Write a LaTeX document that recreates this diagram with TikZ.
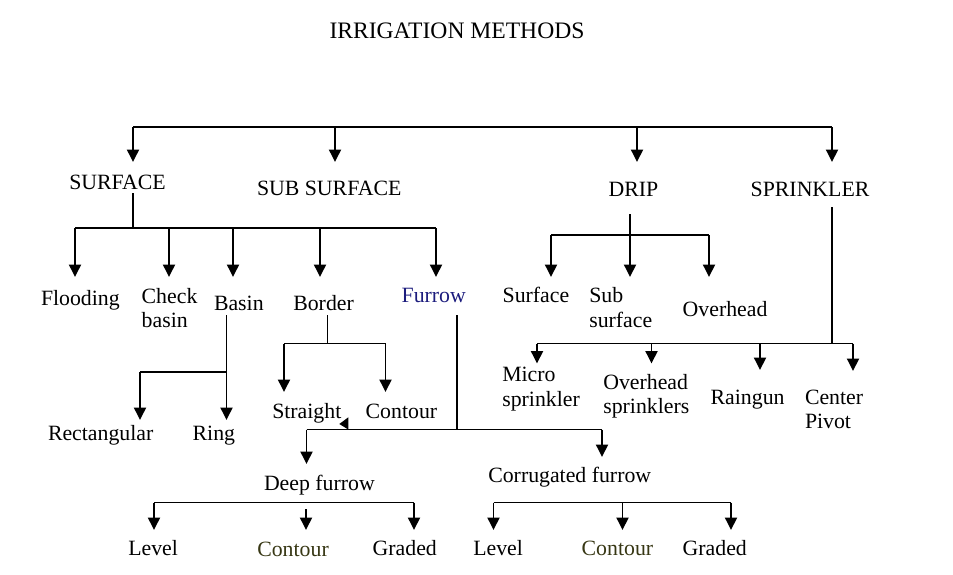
\documentclass[tikz,border=0pt]{standalone}
\usepackage{fontspec}
\setmainfont{Liberation Serif}
\usetikzlibrary{arrows.meta}
\definecolor{furrowblue}{RGB}{28,28,125}
\definecolor{olivedark}{RGB}{55,55,20}
\newcommand{\twol}[2]{\begin{tabular}[t]{@{}l@{}}#1\\#2\end{tabular}}
\begin{document}
\begin{tikzpicture}[x=1pt,y=-1pt,
  lbl/.style={inner sep=0pt,outer sep=0pt,anchor=base west,font=\fontsize{21.8}{24.5}\selectfont},
  ln/.style={line width=1.9pt,black},
  arr/.style={ln,-{Triangle[width=12pt,length=12.5pt]}}]
\useasboundingbox (0,0) rectangle (953,574);
% ---- labels ----
\node[lbl,anchor=base,font=\fontsize{23.6}{26}\selectfont] (title) at (457,38.3) {IRRIGATION METHODS};
\node[lbl] (surface) at (69.3,189) {SURFACE};
\node[lbl] (subsurface) at (257,195.3) {SUB SURFACE};
\node[lbl] (drip) at (608.7,196) {DRIP};
\node[lbl] (sprinkler) at (750.7,196) {SPRINKLER};
\node[lbl] (flooding) at (41,305) {Flooding};
\node[lbl] (check) at (141.7,303) {\twol{Check}{basin}};
\node[lbl] (basin) at (214,310) {Basin};
\node[lbl] (border) at (293.3,310) {Border};
\node[lbl,text=furrowblue] (furrow) at (401.7,302.7) {Furrow};
\node[lbl] (dsurface) at (502.7,302.7) {Surface};
\node[lbl] (dsub) at (589.3,302.7) {\twol{Sub}{surface}};
\node[lbl] (overhead) at (682.7,316.7) {Overhead};
\node[lbl] (rect) at (48,440) {Rectangular};
\node[lbl] (ring) at (192.7,440) {Ring};
\node[lbl] (straight) at (272.3,418.3) {Straight};
\node[lbl] (bcontour) at (365.7,418) {Contour};
\node[lbl] (micro) at (502.3,381.7) {\twol{Micro}{sprinkler}};
\node[lbl] (ohs) at (603.3,389) {\twol{Overhead}{sprinklers}};
\node[lbl] (raingun) at (710.7,404) {Raingun};
\node[lbl] (pivot) at (805,404) {\twol{Center}{Pivot}};
\node[lbl] (deep) at (264,490.7) {Deep furrow};
\node[lbl] (corr) at (488.3,482.3) {Corrugated furrow};
\node[lbl] (levelA) at (128.3,555) {Level};
\node[lbl,text=olivedark] (contourA) at (257.3,556.7) {Contour};
\node[lbl] (gradedA) at (372.7,555) {Graded};
\node[lbl] (levelB) at (473.3,555) {Level};
\node[lbl,text=olivedark] (contourB) at (581.7,555) {Contour};
\node[lbl] (gradedB) at (682.7,555) {Graded};
% ---- junction coordinates ----
\coordinate (topL) at (133,127); \coordinate (topSS) at (335,127);
\coordinate (topD) at (637,127); \coordinate (topR) at (832,127);
\coordinate (inSurface) at (133,162); \coordinate (inSubsurface) at (335,162);
\coordinate (inDrip) at (637,162); \coordinate (inSprinkler) at (832,162);
\coordinate (sStem) at (133,193); \coordinate (sJ) at (133,228);
\coordinate (sL) at (75,228); \coordinate (sC) at (169,228); \coordinate (sB) at (233,228);
\coordinate (sBo) at (320,228); \coordinate (sR) at (436,228);
\coordinate (inFlooding) at (75,277); \coordinate (inCheck) at (169,277);
\coordinate (inBasin) at (233,277); \coordinate (inBorder) at (320,277); \coordinate (inFurrow) at (436,277);
\coordinate (bStem) at (226.5,315); \coordinate (bJ) at (226.5,372); \coordinate (bL) at (140,372);
\coordinate (inRect) at (140,420); \coordinate (inRing) at (226.5,420);
\coordinate (boStem) at (327.5,315); \coordinate (boJ) at (327.5,343.5);
\coordinate (boL) at (284,343.5); \coordinate (boR) at (385.5,343.5);
\coordinate (inStraight) at (284,392); \coordinate (inBContour) at (385.5,392);
\coordinate (fStem) at (457,315); \coordinate (fJ) at (457,429.5);
\coordinate (fL) at (306.5,429.5); \coordinate (fR) at (602,429.5);
\coordinate (inDeep) at (306.5,464); \coordinate (inCorr) at (602,457);
\coordinate (dL) at (154,502.5); \coordinate (dR) at (414,502.5); \coordinate (dM) at (306,509);
\coordinate (inLevelA) at (154,530); \coordinate (inContourA) at (306,530); \coordinate (inGradedA) at (414,530);
\coordinate (cL) at (493.5,502.5); \coordinate (cM) at (622.5,502.5); \coordinate (cR) at (731,502.5);
\coordinate (inLevelB) at (493.5,530); \coordinate (inContourB) at (622.5,530); \coordinate (inGradedB) at (731,530);
\coordinate (drStem) at (630,214); \coordinate (drL) at (551,235); \coordinate (drR) at (709,235);
\coordinate (inDSurface) at (551,277); \coordinate (inDSub) at (630,277); \coordinate (inOverhead) at (709,277);
\coordinate (spStem) at (832,207); \coordinate (spJ) at (832,343.5);
\coordinate (spL) at (537,343.5); \coordinate (spM1) at (651.5,343.5); \coordinate (spM2) at (760,343.5); \coordinate (spR) at (853,343.5);
\coordinate (inMicro) at (537,363.5); \coordinate (inOhs) at (651.5,363.5);
\coordinate (inRaingun) at (760,370); \coordinate (inPivot) at (853,371);
% ---- connectors ----
\draw[ln] (topL) -- (topR);
\draw[arr] (topL) -- (inSurface);
\draw[arr] (topSS) -- (inSubsurface);
\draw[arr] (topD) -- (inDrip);
\draw[arr] (topR) -- (inSprinkler);
% surface
\draw[ln] (sStem) -- (sJ);
\draw[ln] (sL) -- (sR);
\draw[arr] (sL) -- (inFlooding);
\draw[arr] (sC) -- (inCheck);
\draw[arr] (sB) -- (inBasin);
\draw[arr] (sBo) -- (inBorder);
\draw[arr] (sR) -- (inFurrow);
% basin
\draw[arr] (bStem) -- (inRing);
\draw[ln] (bL) -- (bJ);
\draw[arr] (bL) -- (inRect);
% border
\draw[ln] (boStem) -- (boJ);
\draw[ln] (boL) -- (boR);
\draw[arr] (boL) -- (inStraight);
\draw[arr] (boR) -- (inBContour);
% furrow
\draw[ln] (fStem) -- (fJ);
\draw[ln] (fL) -- (fR);
\draw[arr] (fL) -- (inDeep);
\draw[arr] (fR) -- (inCorr);
\fill (339.3,424) -- (348.3,417.3) -- (348.3,429.5) -- cycle;
% deep furrow
\draw[ln] (dL) -- (dR);
\draw[arr] (dL) -- (inLevelA);
\draw[arr] (dM) -- (inContourA);
\draw[arr] (dR) -- (inGradedA);
% corrugated furrow
\draw[ln] (cL) -- (cR);
\draw[arr] (cL) -- (inLevelB);
\draw[arr] (cM) -- (inContourB);
\draw[arr] (cR) -- (inGradedB);
% drip
\draw[arr] (drStem) -- (inDSub);
\draw[ln] (drL) -- (drR);
\draw[arr] (drL) -- (inDSurface);
\draw[arr] (drR) -- (inOverhead);
% sprinkler
\draw[ln] (spStem) -- (spJ);
\draw[ln] (spL) -- (spR);
\draw[arr] (spL) -- (inMicro);
\draw[arr] (spM1) -- (inOhs);
\draw[arr] (spM2) -- (inRaingun);
\draw[arr] (spR) -- (inPivot);
\end{tikzpicture}
\end{document}
